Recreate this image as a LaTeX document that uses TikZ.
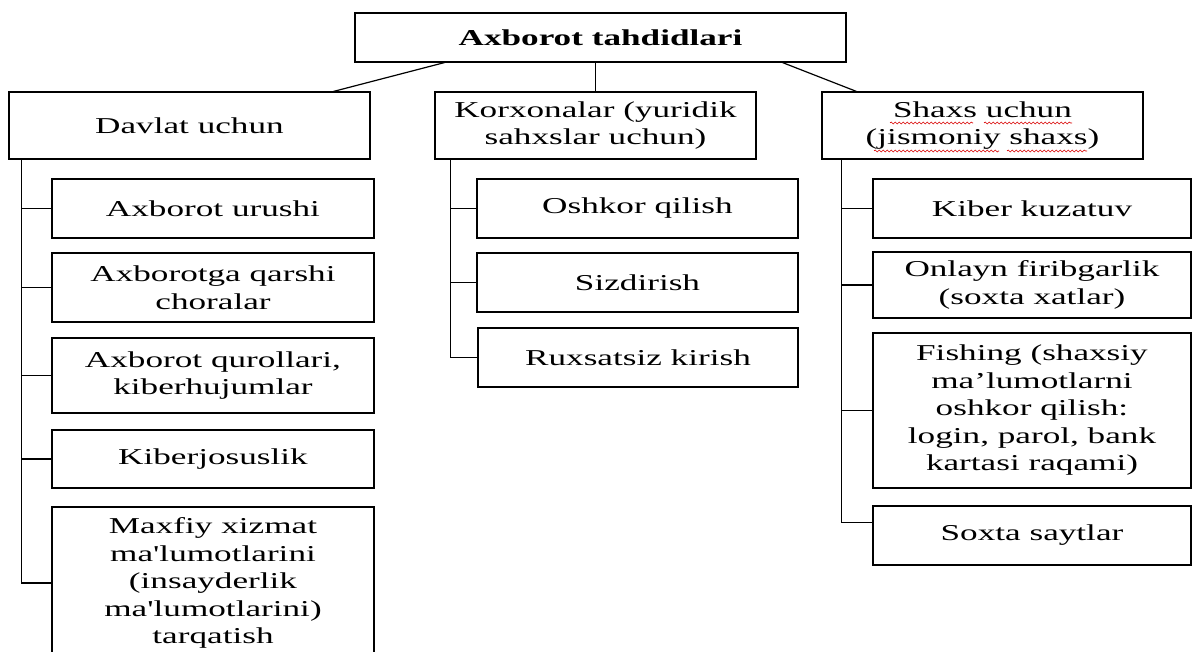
\documentclass[tikz,border=0pt]{standalone}
\usepackage{fontspec}
\setmainfont{Liberation Serif}[FakeStretch=1.55, Ligatures=TeXOff]
\usetikzlibrary{calc,decorations.pathmorphing}
\tikzset{
  box/.style={draw, line width=1.2pt, inner sep=0pt, align=center,
    font=\fontsize{22.7}{27.5}\selectfont},
  conn/.style={line width=1.2pt},
  squig/.style={draw=red!85!black, line width=0.6pt, decorate,
    decoration={snake, amplitude=1pt, segment length=4pt}}
}
\begin{document}
\begin{tikzpicture}[x=1pt,y=-1pt]
\useasboundingbox[fill=white] (0,0) rectangle (1193,651);
% top
\node[box, minimum width=491pt, minimum height=49pt] (T) at (600.5,37.5) {\textbf{Axborot tahdidlari}};
% level 1
\node[box, minimum width=361pt, minimum height=67pt] (L) at (189.5,125.5) {Davlat uchun};
\node[box, minimum width=321pt, minimum height=67pt] (M) at (595.5,125.5) {Korxonalar (yuridik\\sahxslar uchun)};
\node[box, minimum width=321pt, minimum height=67pt] (R) at (982.5,125.5) {Shaxs uchun\\(jismoniy shaxs)};
% spell-check squiggles
\draw[squig] ($(R.center)+(-92.5,-2.5)$) -- ++(83,0);
\draw[squig] ($(R.center)+(1.5,-2.5)$) -- ++(88,0);
\draw[squig] ($(R.center)+(-108.5,25.5)$) -- ++(125,0);
\draw[squig] ($(R.center)+(24.5,25.5)$) -- ++(80,0);
% left children
\node[box, minimum width=322pt, minimum height=59pt] (L1) at (213,208.5) {Axborot urushi};
\node[box, minimum width=322pt, minimum height=69pt] (L2) at (213,287.5) {Axborotga qarshi\\choralar};
\node[box, minimum width=322pt, minimum height=75pt] (L3) at (213,375.5) {Axborot qurollari,\\kiberhujumlar};
\node[box, minimum width=322pt, minimum height=58pt] (L4) at (213,459) {Kiberjosuslik};
\node[box, minimum width=322pt, minimum height=152pt] (L5) at (213,583) {Maxfiy xizmat\\ma'lumotlarini\\(insayderlik\\ma'lumotlarini)\\tarqatish};
% middle children
\node[box, minimum width=321pt, minimum height=59pt] (M1) at (637.5,208.5) {Oshkor qilish};
\node[box, minimum width=321pt, minimum height=59pt] (M2) at (637.5,282.5) {Sizdirish};
\node[box, minimum width=320pt, minimum height=59pt] (M3) at (638,357.5) {Ruxsatsiz kirish};
% right children
\node[box, minimum width=318pt, minimum height=59pt] (R1) at (1032,208.5) {Kiber kuzatuv};
\node[box, minimum width=318pt, minimum height=66pt] (R2) at (1032,285) {Onlayn firibgarlik\\(soxta xatlar)};
\node[box, minimum width=318pt, minimum height=155pt] (R3) at (1032,410.5) {Fishing (shaxsiy\\ma’lumotlarni\\oshkor qilish:\\login, parol, bank\\kartasi raqami)};
\node[box, minimum width=318pt, minimum height=59pt] (R4) at (1032,535.5) {Soxta saytlar};
% top connectors
\draw[conn] ($(T.south west)+(90,0)$) -- ($(L.north east)+(-37,0)$);
\draw[conn] (M.north) -- (M.north |- T.south);
\draw[conn] ($(T.south east)+(-64,0)$) -- ($(R.north west)+(35,0)$);
% trunks
\coordinate (Lt) at ($(L.south west)+(13,0)$);
\coordinate (Mt) at ($(M.south west)+(16,0)$);
\coordinate (Rt) at ($(R.south west)+(20,0)$);
\coordinate (R4b) at ($(R4.north west)+(0,17)$);
\draw[conn] (Lt) |- (L5.west);
\draw[conn] (Lt |- L1.west) -- (L1.west);
\draw[conn] (Lt |- L2.west) -- (L2.west);
\draw[conn] (Lt |- L3.west) -- (L3.west);
\draw[conn] (Lt |- L4.west) -- (L4.west);
\draw[conn] (Mt) |- (M3.west);
\draw[conn] (Mt |- M1.west) -- (M1.west);
\draw[conn] (Mt |- M2.west) -- (M2.west);
\draw[conn] (Rt) |- (R4b);
\draw[conn] (Rt |- R1.west) -- (R1.west);
\draw[conn] (Rt |- R2.west) -- (R2.west);
\draw[conn] (Rt |- R3.west) -- (R3.west);
\end{tikzpicture}
\end{document}
